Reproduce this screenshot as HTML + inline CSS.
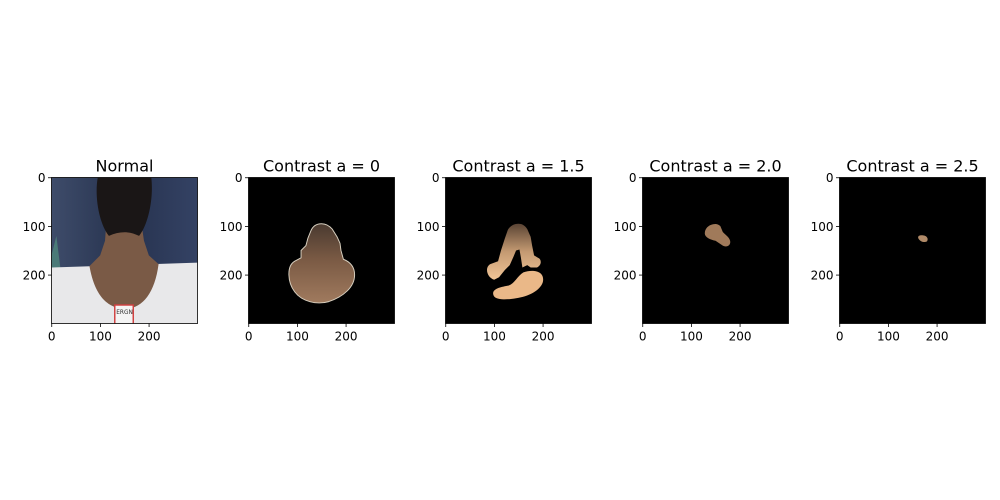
<!DOCTYPE html>
<html><head><meta charset="utf-8"><style>
html,body{margin:0;padding:0;background:#fff;}
svg{display:block;font-family:"DejaVu Sans","Liberation Sans",sans-serif;}
</style></head><body>
<svg id="fig" width="1000" height="500" viewBox="0 0 1000 500">
<defs>
<linearGradient id="skin" x1="0" y1="0" x2="0" y2="1">
<stop offset="0" stop-color="#4a3a30"/><stop offset="0.45" stop-color="#7a5a44"/><stop offset="1" stop-color="#a07a5e"/></linearGradient>
<linearGradient id="skin2" x1="0" y1="0" x2="0" y2="1">
<stop offset="0" stop-color="#5a4434"/><stop offset="0.5" stop-color="#c49a72"/><stop offset="1" stop-color="#f0c496"/></linearGradient>
<linearGradient id="bg" x1="0" y1="0" x2="1" y2="0">
<stop offset="0" stop-color="#3e4c6a"/><stop offset="0.5" stop-color="#26324e"/><stop offset="1" stop-color="#344264"/></linearGradient>
</defs>
</svg>
<script>
const titles = ["Normal","Contrast a = 0","Contrast a = 1.5","Contrast a = 2.0","Contrast a = 2.5"];
const xTicks = [0,100,200];
const yTicks = [0,100,200];
const panelLefts = [51.5,248.5,445.5,642.5,839.5];
const top0 = 177.5, size = 146, extent = 300;
const NS = "http://www.w3.org/2000/svg";
const svg = document.getElementById("fig");
function mk(tag, attrs, parent){const e=document.createElementNS(NS,tag);for(const k in attrs)e.setAttribute(k,attrs[k]);(parent||svg).appendChild(e);return e;}
const shapes = [
 null,
 [{d:"M150,95 C140,95 132,100 128,110 L122,125 L118,140 L108,150 L108,165 L95,172 C78,182 80,215 95,235 C110,255 140,262 165,255 C195,245 218,225 218,200 C218,180 205,172 195,168 L190,150 L188,135 L182,122 L172,106 C165,98 158,95 150,95 Z",f:"url(#skin)",s:"#d8d0c0"}],
 [{d:"M150,95 C140,95 132,100 128,108 L122,125 L114,150 L108,172 L92,178 C80,185 85,205 100,210 L110,205 L122,190 L132,180 L140,162 L145,150 L152,148 L155,165 L158,185 L168,180 L175,185 L188,185 C198,180 198,168 190,165 L182,160 L178,140 L175,122 L168,106 C163,98 157,95 150,95 Z",f:"url(#skin2)"},
  {d:"M160,195 C180,188 205,192 200,215 C195,232 170,245 145,248 C120,252 100,252 98,240 C96,228 115,225 130,222 C142,218 148,202 160,195 Z",f:"#eab888"}],
 [{d:"M145,96 C135,98 128,105 128,115 C128,123 140,128 150,130 L165,140 C175,145 182,138 180,130 C178,122 170,118 165,112 L160,100 C155,95 150,95 145,96 Z",f:"#a07a5a"}],
 [{d:"M162,125 C160,120 165,118 172,119 C180,120 183,126 180,131 C176,134 166,133 162,125 Z",f:"#b08a68"}]
];
panelLefts.forEach((L,i)=>{
  const g = mk("g",{});
  
  
  const sc = size/extent;
  const xs = v=>L+(v+0.5)*sc, ys=v=>top0+(v+0.5)*sc;
  const clipId="clip"+i;
  const cp = mk("clipPath",{id:clipId},g); mk("rect",{x:L,y:top0,width:size,height:size},cp);
  const img = mk("g",{"clip-path":"url(#"+clipId+")"},g);
  
  
  const inner = mk("g",{transform:`translate(${L},${top0}) scale(${sc})`},img);
  if(i===0){
    mk("rect",{x:0,y:0,width:300,height:300,fill:"url(#bg)"},inner);
    mk("path",{d:"M0,160 L10,120 L20,200 L0,210 Z",fill:"#4a7a78"},inner);
    mk("path",{d:"M0,185 L300,175 L300,300 L0,300 Z",fill:"#e8e8ea"},inner);
    mk("path",{d:"M78,182 C90,250 120,268 150,270 C185,270 212,240 220,178 L200,160 L190,130 L180,60 L115,60 L110,130 L100,160 Z",fill:"#7a5a46"},inner);
    mk("path",{d:"M95,0 L205,0 C210,40 200,95 180,120 C160,110 140,110 118,120 C98,95 88,40 95,0 Z",fill:"#1a1616"},inner);
    mk("rect",{x:130,y:262,width:38,height:40,fill:"#f4f4f4",stroke:"#d04040","stroke-width":3},inner);
    mk("text",{x:133,y:280,"font-size":12,fill:"#333"},inner).textContent="ERGN";
  } else {
    mk("rect",{x:0,y:0,width:300,height:300,fill:"#000"},inner);
    shapes[i].forEach(s=>{mk("path",{d:s.d,fill:s.f,stroke:s.s||"none","stroke-width":2},inner);});
  }
  const frame = mk("rect",{x:L,y:top0,width:size,height:size,fill:"none",stroke:"#000","stroke-width":0.8},g);
  
  
  xTicks.forEach(t=>{
    mk("line",{x1:xs(t),x2:xs(t),y1:top0+size,y2:top0+size+3.5,stroke:"#000","stroke-width":0.8},g);
    const tx = mk("text",{x:xs(t),y:top0+size+17,"font-size":12,"text-anchor":"middle",fill:"#000"},g);
    tx.textContent=t;
    
    
  });
  yTicks.forEach(t=>{
    mk("line",{x1:L-3.5,x2:L,y1:ys(t),y2:ys(t),stroke:"#000","stroke-width":0.8},g);
    const ty = mk("text",{x:L-6,y:ys(t)+4.5,"font-size":12,"text-anchor":"end",fill:"#000"},g);
    ty.textContent=t;
    
    
  });
  const tt = mk("text",{x:L+size/2,y:top0-6,"font-size":16,"text-anchor":"middle",fill:"#000"},g);
  tt.textContent=titles[i];
  
  
});
</script>
</body></html>
